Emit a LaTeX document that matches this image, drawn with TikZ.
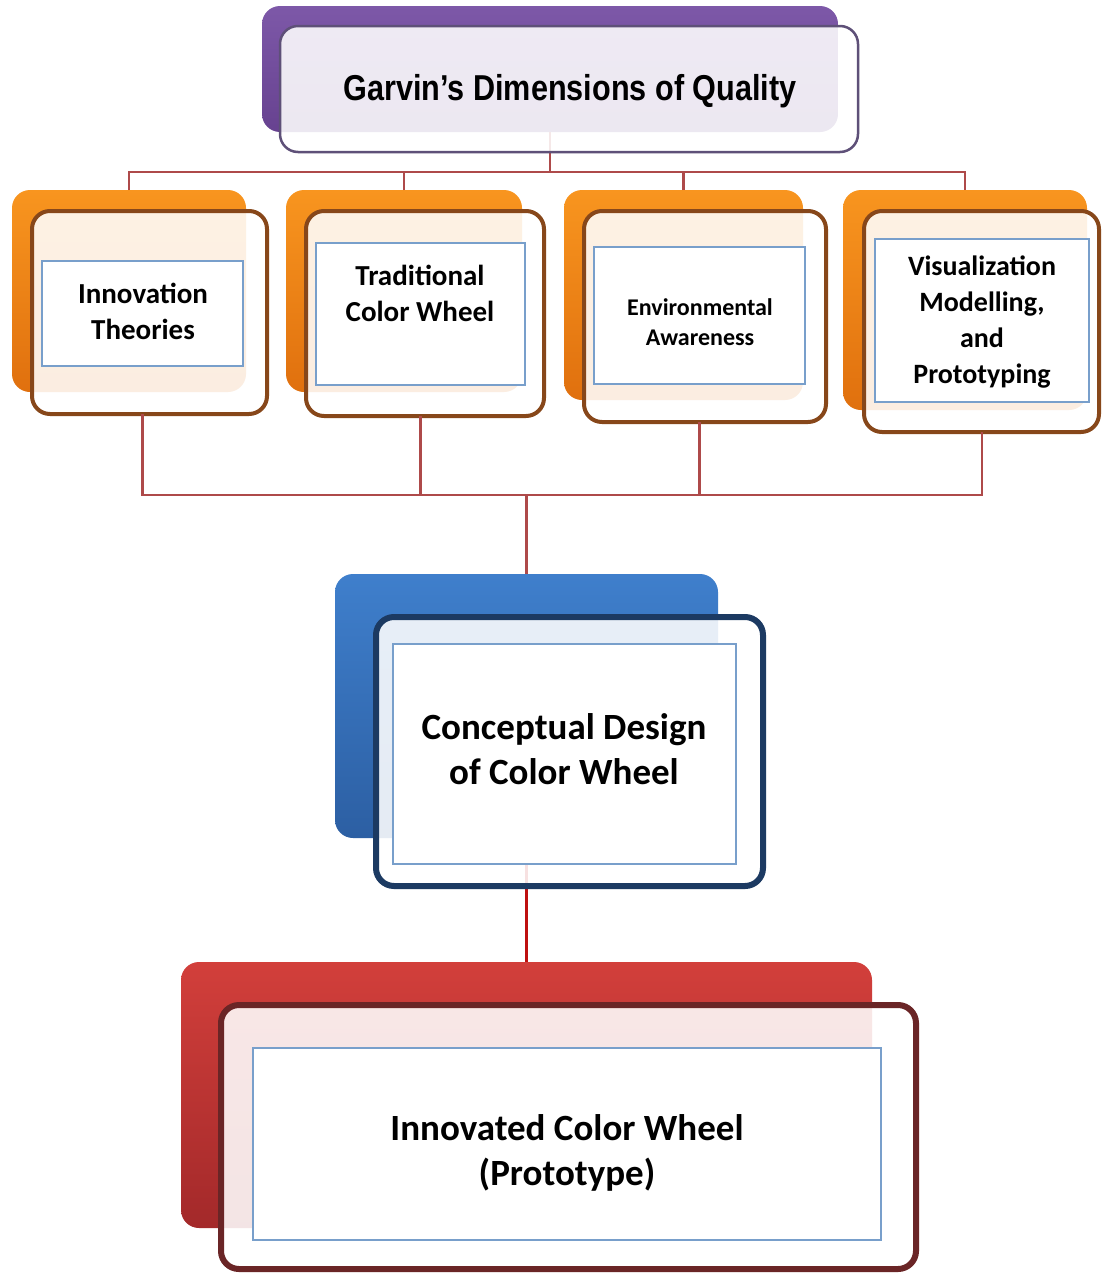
\documentclass[tikz,border=0pt]{standalone}
\usepackage{fontspec}
\setmainfont{Carlito}
\newfontfamily\titlefont{Liberation Sans}
\definecolor{purpleA}{HTML}{7D58A8}
\definecolor{purpleB}{HTML}{674290}
\definecolor{purpleEdge}{HTML}{5E5078}
\definecolor{orangeA}{HTML}{F8951F}
\definecolor{orangeB}{HTML}{E0700E}
\definecolor{orangeEdge}{HTML}{87471A}
\definecolor{blueA}{HTML}{3F7FCC}
\definecolor{blueB}{HTML}{2C5FA3}
\definecolor{blueEdge}{HTML}{1C3A62}
\definecolor{redA}{HTML}{D23F3B}
\definecolor{redB}{HTML}{A3292A}
\definecolor{redEdge}{HTML}{6A2526}
\definecolor{innerblue}{HTML}{789FCB}
\definecolor{connred}{HTML}{AE4A4A}
\definecolor{connred2}{HTML}{BE1010}
\tikzset{
  backbox/.style={rounded corners=18pt, inner sep=0pt, outer sep=0pt, draw=none, anchor=north west},
  frontbox/.style={rounded corners=18pt, inner sep=0pt, outer sep=0pt, fill=white, fill opacity=0.88, anchor=north west},
  innerbox/.style={draw=innerblue, line width=2.5pt, fill=white, inner sep=0pt, outer sep=0pt, anchor=north west},
  conn/.style={draw=connred, line width=2.5pt},
  conn2/.style={draw=connred2, line width=3.5pt},
  lbl/.style={align=center, font=\bfseries, text=black, inner sep=0pt},
}
\begin{document}
\begin{tikzpicture}[x=1pt,y=-1pt]
\useasboundingbox[fill=white] (0,0) rectangle (1101,1274);

% back boxes
\node[backbox, top color=purpleA, bottom color=purpleB, minimum width=576pt, minimum height=126pt] (tb) at (262,6) {};
\node[backbox, top color=orangeA, bottom color=orangeB, minimum width=234pt, minimum height=202pt] (b1) at (12,190) {};
\node[backbox, top color=orangeA, bottom color=orangeB, minimum width=236pt, minimum height=202pt] (b2) at (286,190) {};
\node[backbox, top color=orangeA, bottom color=orangeB, minimum width=239pt, minimum height=210pt] (b3) at (564,190) {};
\node[backbox, top color=orangeA, bottom color=orangeB, minimum width=244pt, minimum height=220pt] (b4) at (843,190) {};
\node[backbox, top color=blueA, bottom color=blueB, minimum width=383pt, minimum height=264pt] (bb) at (335,574) {};
\node[backbox, top color=redA, bottom color=redB, minimum width=691pt, minimum height=266pt] (rb) at (181,962) {};

% connectors
\coordinate (busT) at (0,172);
\coordinate (busB) at (0,495);
\draw[conn] (tb.south) -- (tb.south |- busT);
\draw[conn] (b1.north) -- (b1.north |- busT) -- (b4.north |- busT) -- (b4.north);
\draw[conn] (b2.north) -- (b2.north |- busT);
\draw[conn] (b3.north) -- (b3.north |- busT);

% front boxes
\node[frontbox, draw=purpleEdge, line width=2.5pt, minimum width=578pt, minimum height=126pt] (tf) at (280,26) {};
\node[frontbox, draw=orangeEdge, line width=4pt, minimum width=235pt, minimum height=203pt] (f1) at (32,211) {};
\node[frontbox, draw=orangeEdge, line width=4pt, minimum width=238pt, minimum height=205pt] (f2) at (306,211) {};
\node[frontbox, draw=orangeEdge, line width=4pt, minimum width=242pt, minimum height=211pt] (f3) at (584,211) {};
\node[frontbox, draw=orangeEdge, line width=4pt, minimum width=235pt, minimum height=221pt] (f4) at (864,211) {};

% inner boxes
\node[innerbox, minimum width=201pt, minimum height=105pt] (i1) at (42,261) {};
\node[innerbox, minimum width=209pt, minimum height=142pt] (i2) at (316,243) {};
\node[innerbox, minimum width=211pt, minimum height=137pt] (i3) at (594,247) {};
\node[innerbox, minimum width=214pt, minimum height=163pt] (i4) at (875,239) {};

% lower connectors
\draw[conn] (i1.south |- f1.south) -- (i1.south |- busB) -- (i4.south |- busB) -- (i4.south |- f4.south);
\draw[conn] (i2.south |- f2.south) -- (i2.south |- busB);
\draw[conn] (i3.south |- f3.south) -- (i3.south |- busB);
\draw[conn] (bb.north |- busB) -- (bb.north);
\draw[conn2] (bb.south) -- (rb.north);

% lower front boxes
\node[frontbox, draw=blueEdge, line width=6pt, minimum width=387pt, minimum height=269pt] (bf) at (376,617) {};
\node[frontbox, draw=redEdge, line width=6pt, minimum width=695pt, minimum height=264pt] (rf) at (221,1005) {};
\node[innerbox, minimum width=343pt, minimum height=220pt] (bi) at (393,644) {};
\node[innerbox, minimum width=628pt, minimum height=192pt] (ri) at (253,1048) {};

% labels
\node[lbl, font=\titlefont\bfseries\fontsize{36}{40}\selectfont] (t0) at (570,91) {\scalebox{0.85}[1]{Garvin’s Dimensions of Quality}};
\node[lbl, font=\bfseries\fontsize{29}{36}\selectfont] (t1) at (143,311) {Innovation\\Theories};
\node[lbl, font=\bfseries\fontsize{29}{36}\selectfont] (t2) at (420,293) {Traditional\\Color Wheel};
\node[lbl, font=\bfseries\fontsize{24}{30}\selectfont] (t3) at (700,322) {Environmental\\Awareness};
\node[lbl, font=\bfseries\fontsize{28}{36}\selectfont] (t4) at (982,322) {Visualization\\Modelling,\\and\\Prototyping};
\node[lbl, font=\bfseries\fontsize{37}{45}\selectfont] (t5) at (564,749) {Conceptual Design\\of Color Wheel};
\node[lbl, font=\bfseries\fontsize{37}{45}\selectfont] (t6) at (567,1153) {Innovated Color Wheel\\(Prototype)};
\end{tikzpicture}
\end{document}
